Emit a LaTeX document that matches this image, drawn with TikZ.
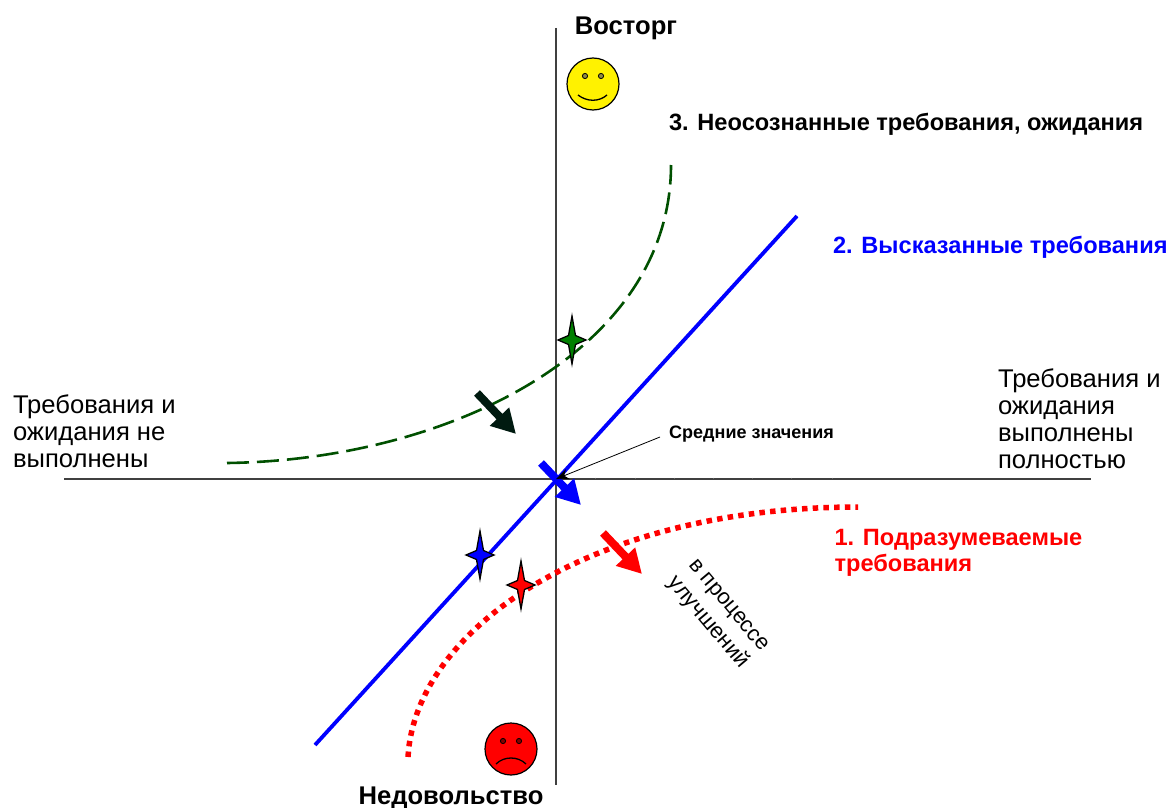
\documentclass[tikz,border=0pt]{standalone}
\usepackage{fontspec}
\setmainfont{Liberation Sans}
\usepackage{tikz}
\usetikzlibrary{arrows.meta}

\definecolor{darkgreen}{RGB}{0,80,0}
\definecolor{arrowgreen}{RGB}{0,26,16}
\definecolor{stargreen}{RGB}{0,128,0}

\tikzset{
	axis/.style={draw=black!75,line width=1.2pt},
	plain/.style={font=\fontsize{25.6}{27}\selectfont,align=left,anchor=west},
	title/.style={font=\fontsize{25.6}{27}\selectfont\bfseries},
	curvelabel/.style={font=\fontsize{23.6}{26}\selectfont\bfseries,align=left,anchor=west},
	bigarrow/.style={line width=8pt,-{Triangle[length=24pt,width=25pt]}},
	face/.style={circle,draw=black,line width=1.2pt,minimum size=52pt,inner sep=0pt},
}

\begin{document}
\begin{tikzpicture}[x=1pt,y=-1pt]
	\useasboundingbox (0,0) rectangle (1167,808);

	% axes
	\coordinate (left) at (64,479);
	\coordinate (right) at (1091,479);
	\coordinate (top) at (556,28);
	\coordinate (bottom) at (556,785);
	\coordinate (mid) at (556,479);
	\draw[axis] (left)--(right);
	\draw[axis] (top)--(bottom);
	\foreach \x in {595,635,674,713,752,791,832}
		\draw[black!60,line width=.6pt] (\x,477.5)--(\x,479);

	% curves
	\coordinate (g1) at (227,463);
	\coordinate (g2) at (671,165);
	\coordinate (b1) at (315,745);
	\coordinate (b2) at (797,216);
	\coordinate (r1) at (408,757);
	\coordinate (r2) at (858,507);
	\draw[darkgreen,line width=2.6pt,dash pattern=on 22pt off 8pt] (g1) .. controls (450,460) and (671,350) .. (g2);
	\draw[blue,line width=3.8pt] (b1)--(b2);
	\draw[red,line width=5.5pt,dash pattern=on 5.5pt off 5.2pt] (r1) .. controls (415,630) and (590,507) .. (r2);

	% thick arrows
	\coordinate (ga) at (477,393);
	\coordinate (gb) at (516,434);
	\coordinate (ba) at (541,463);
	\coordinate (bb) at (581,505);
	\coordinate (ra) at (603,533);
	\coordinate (rb) at (642,574);
	\draw[bigarrow,arrowgreen] (ga)--(gb);
	\draw[bigarrow,blue] (ba)--(bb);
	\draw[bigarrow,red] (ra)--(rb);

	% stars
	\foreach \px/\py/\col in {572/340/stargreen,480/555/blue,521/585/red}
		\draw[fill=\col,line width=1.3pt,line join=miter,shift={(\px,\py)}]
			(0,-24)--(3.5,-4.5)--(14,0)--(3.5,4.5)--(0,24)--(-3.5,4.5)--(-14,0)--(-3.5,-4.5)--cycle;

	% faces
	\node[face,fill=yellow] (happy) at (593,84) {};
	\node[face,fill=red] (sad) at (511,749) {};
	\foreach \dx in {-8,8} {
		\draw[fill=yellow!50!black,line width=.8pt] (593+\dx,76) circle (2.6);
		\draw[fill=red!50!black,line width=.8pt] (511+\dx,741) circle (2.6);
	}
	\draw[line width=1.3pt] (578,95) .. controls (587,102) and (599,102) .. (607,95);
	\draw[line width=1.3pt] (496,764) .. controls (504,756) and (518,756) .. (526,764);

	% labels
	\node[title] (joy) at (626,28) {Восторг};
	\node[title] (bad) at (451,798) {Недовольство};
	\node[plain] (notmet) at (9.5,431) {Требования и\\ожидания не\\выполнены};
	\node[plain] (met) at (994.5,419) {Требования и\\ожидания\\выполнены\\полностью};
	\node[curvelabel] (third) at (665.5,124) {3. Неосознанные требования, ожидания};
	\node[curvelabel,blue] (second) at (829.5,247) {2. Высказанные требования};
	\node[curvelabel,red] (first) at (831,553) {1. Подразумеваемые\\требования};
	\node[font=\fontsize{18}{20}\selectfont\bfseries,anchor=west,inner sep=3pt] (avg) at (666,434) {Средние значения};
	\node[font=\fontsize{22}{27}\selectfont,align=center,rotate=-50] (impr) at (717,615) {в процессе\\улучшений};

	\draw[-{Stealth[length=13pt,width=11pt]},line width=.8pt] (660,437)--(mid);

\end{tikzpicture}
\end{document}
